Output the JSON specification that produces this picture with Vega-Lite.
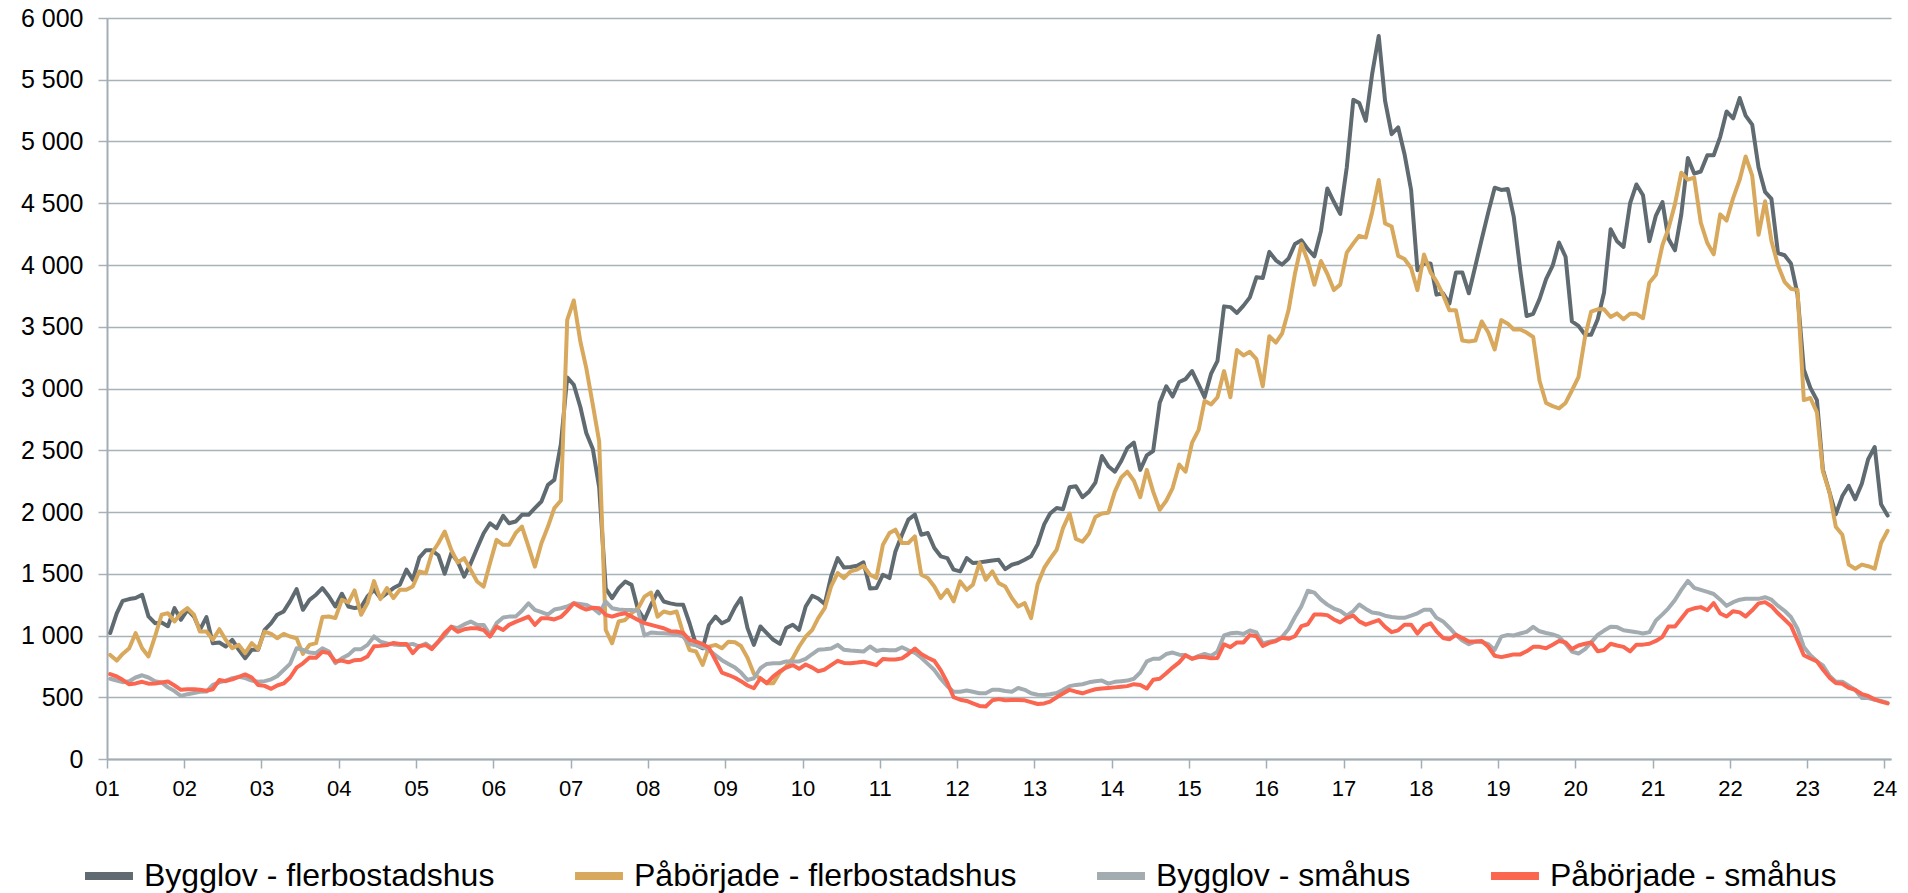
{
"$schema": "https://vega.github.io/schema/vega-lite/v6.json",
"autosize": {"type": "none"},
"width": 1784,
"height": 741,
"padding": {"left": 107, "top": 18, "right": 17, "bottom": 134},
"background": "white",
"config": {"font": "Liberation Sans", "view": {"stroke": null}},
"data": {"values": [
{"d":"2001-01-16","a":1020,"b":843,"c":650,"e":687},{"d":"2001-02-16","a":1180,"b":797,"c":635,"e":668},{"d":"2001-03-16","a":1280,"b":851,"c":622,"e":641},{"d":"2001-04-16","a":1295,"b":897,"c":630,"e":605},{"d":"2001-05-16","a":1303,"b":1019,"c":660,"e":612},{"d":"2001-06-16","a":1330,"b":897,"c":678,"e":625},{"d":"2001-07-16","a":1155,"b":830,"c":660,"e":610},{"d":"2001-08-16","a":1100,"b":992,"c":630,"e":612},{"d":"2001-09-16","a":1105,"b":1168,"c":620,"e":620},{"d":"2001-10-16","a":1075,"b":1181,"c":580,"e":627},{"d":"2001-11-16","a":1222,"b":1114,"c":550,"e":595},{"d":"2001-12-16","a":1127,"b":1181,"c":510,"e":560},
{"d":"2002-01-16","a":1208,"b":1222,"c":525,"e":565},{"d":"2002-02-16","a":1154,"b":1168,"c":535,"e":565},{"d":"2002-03-16","a":1046,"b":1032,"c":544,"e":560},{"d":"2002-04-16","a":1149,"b":1032,"c":546,"e":553},{"d":"2002-05-16","a":938,"b":965,"c":600,"e":565},{"d":"2002-06-16","a":943,"b":1051,"c":620,"e":640},{"d":"2002-07-16","a":911,"b":965,"c":635,"e":630},{"d":"2002-08-16","a":965,"b":897,"c":655,"e":645},{"d":"2002-09-16","a":884,"b":924,"c":665,"e":665},{"d":"2002-10-16","a":816,"b":857,"c":655,"e":685},{"d":"2002-11-16","a":884,"b":938,"c":635,"e":660},{"d":"2002-12-16","a":884,"b":889,"c":625,"e":600},
{"d":"2003-01-16","a":1046,"b":1032,"c":630,"e":592},{"d":"2003-02-16","a":1100,"b":1013,"c":645,"e":568},{"d":"2003-03-16","a":1168,"b":978,"c":670,"e":595},{"d":"2003-04-16","a":1195,"b":1013,"c":720,"e":612},{"d":"2003-05-16","a":1276,"b":992,"c":770,"e":660},{"d":"2003-06-16","a":1376,"b":978,"c":897,"e":740},{"d":"2003-07-16","a":1208,"b":851,"c":884,"e":775},{"d":"2003-08-16","a":1289,"b":924,"c":862,"e":822},{"d":"2003-09-16","a":1330,"b":938,"c":857,"e":820},{"d":"2003-10-16","a":1384,"b":1149,"c":897,"e":868},{"d":"2003-11-16","a":1316,"b":1154,"c":870,"e":857},{"d":"2003-12-16","a":1235,"b":1141,"c":776,"e":790},
{"d":"2004-01-16","a":1338,"b":1289,"c":816,"e":797},{"d":"2004-02-16","a":1235,"b":1268,"c":843,"e":783},{"d":"2004-03-16","a":1222,"b":1365,"c":889,"e":800},{"d":"2004-04-16","a":1230,"b":1168,"c":889,"e":803},{"d":"2004-05-16","a":1316,"b":1262,"c":924,"e":830},{"d":"2004-06-16","a":1370,"b":1440,"c":992,"e":912},{"d":"2004-07-16","a":1303,"b":1295,"c":951,"e":916},{"d":"2004-08-16","a":1343,"b":1384,"c":935,"e":922},{"d":"2004-09-16","a":1384,"b":1303,"c":928,"e":940},{"d":"2004-10-16","a":1411,"b":1370,"c":924,"e":932},{"d":"2004-11-16","a":1533,"b":1370,"c":924,"e":932},{"d":"2004-12-16","a":1451,"b":1397,"c":932,"e":857},
{"d":"2005-01-16","a":1630,"b":1518,"c":910,"e":915},{"d":"2005-02-16","a":1690,"b":1504,"c":935,"e":922},{"d":"2005-03-16","a":1690,"b":1666,"c":900,"e":890},{"d":"2005-04-16","a":1650,"b":1747,"c":950,"e":950},{"d":"2005-05-16","a":1500,"b":1842,"c":1000,"e":1020},{"d":"2005-06-16","a":1666,"b":1693,"c":1072,"e":1070},{"d":"2005-07-16","a":1600,"b":1591,"c":1060,"e":1030},{"d":"2005-08-16","a":1477,"b":1626,"c":1090,"e":1050},{"d":"2005-09-16","a":1585,"b":1531,"c":1113,"e":1059},{"d":"2005-10-16","a":1707,"b":1437,"c":1086,"e":1059},{"d":"2005-11-16","a":1828,"b":1396,"c":1086,"e":1045},{"d":"2005-12-16","a":1909,"b":1585,"c":1005,"e":991},
{"d":"2006-01-16","a":1869,"b":1774,"c":1100,"e":1072},{"d":"2006-02-16","a":1969,"b":1734,"c":1145,"e":1045},{"d":"2006-03-16","a":1909,"b":1734,"c":1153,"e":1086},{"d":"2006-04-16","a":1923,"b":1828,"c":1153,"e":1110},{"d":"2006-05-16","a":1977,"b":1882,"c":1200,"e":1130},{"d":"2006-06-16","a":1977,"b":1720,"c":1261,"e":1153},{"d":"2006-07-16","a":2031,"b":1558,"c":1207,"e":1086},{"d":"2006-08-16","a":2085,"b":1747,"c":1190,"e":1140},{"d":"2006-09-16","a":2220,"b":1882,"c":1170,"e":1140},{"d":"2006-10-16","a":2260,"b":2031,"c":1210,"e":1130},{"d":"2006-11-16","a":2550,"b":2093,"c":1221,"e":1150},{"d":"2006-12-16","a":3090,"b":3556,"c":1235,"e":1200},
{"d":"2007-01-16","a":3030,"b":3713,"c":1261,"e":1261},{"d":"2007-02-16","a":2850,"b":3381,"c":1255,"e":1230},{"d":"2007-03-16","a":2640,"b":3165,"c":1248,"e":1210},{"d":"2007-04-16","a":2510,"b":2868,"c":1221,"e":1225},{"d":"2007-05-16","a":2200,"b":2571,"c":1180,"e":1220},{"d":"2007-06-16","a":1380,"b":1045,"c":1275,"e":1167},{"d":"2007-07-16","a":1302,"b":937,"c":1221,"e":1153},{"d":"2007-08-16","a":1383,"b":1113,"c":1210,"e":1170},{"d":"2007-09-16","a":1437,"b":1126,"c":1207,"e":1180},{"d":"2007-10-16","a":1410,"b":1180,"c":1207,"e":1153},{"d":"2007-11-16","a":1207,"b":1221,"c":1200,"e":1126},{"d":"2007-12-16","a":1126,"b":1315,"c":1000,"e":1100},
{"d":"2008-01-16","a":1248,"b":1348,"c":1024,"e":1086},{"d":"2008-02-16","a":1356,"b":1153,"c":1020,"e":1072},{"d":"2008-03-16","a":1275,"b":1194,"c":1018,"e":1059},{"d":"2008-04-16","a":1260,"b":1180,"c":1015,"e":1035},{"d":"2008-05-16","a":1250,"b":1194,"c":1010,"e":1032},{"d":"2008-06-16","a":1248,"b":1018,"c":991,"e":1020},{"d":"2008-07-16","a":1099,"b":883,"c":930,"e":964},{"d":"2008-08-16","a":924,"b":870,"c":920,"e":950},{"d":"2008-09-16","a":897,"b":762,"c":905,"e":930},{"d":"2008-10-16","a":1086,"b":910,"c":883,"e":900},{"d":"2008-11-16","a":1153,"b":924,"c":840,"e":800},{"d":"2008-12-16","a":1099,"b":897,"c":800,"e":700},
{"d":"2009-01-16","a":1125,"b":950,"c":770,"e":680},{"d":"2009-02-16","a":1230,"b":945,"c":740,"e":658},{"d":"2009-03-16","a":1303,"b":915,"c":700,"e":630},{"d":"2009-04-16","a":1060,"b":820,"c":640,"e":595},{"d":"2009-05-16","a":924,"b":690,"c":654,"e":573},{"d":"2009-06-16","a":1073,"b":650,"c":735,"e":654},{"d":"2009-07-16","a":1019,"b":614,"c":770,"e":614},{"d":"2009-08-16","a":965,"b":614,"c":776,"e":670},{"d":"2009-09-16","a":932,"b":700,"c":775,"e":710},{"d":"2009-10-16","a":1060,"b":750,"c":790,"e":740},{"d":"2009-11-16","a":1087,"b":816,"c":790,"e":760},{"d":"2009-12-16","a":1046,"b":911,"c":790,"e":730},
{"d":"2010-01-16","a":1235,"b":990,"c":810,"e":765},{"d":"2010-02-16","a":1322,"b":1046,"c":850,"e":740},{"d":"2010-03-16","a":1300,"b":1141,"c":884,"e":710},{"d":"2010-04-16","a":1255,"b":1222,"c":889,"e":725},{"d":"2010-05-16","a":1479,"b":1397,"c":895,"e":760},{"d":"2010-06-16","a":1627,"b":1506,"c":924,"e":795},{"d":"2010-07-16","a":1550,"b":1465,"c":884,"e":778},{"d":"2010-08-16","a":1554,"b":1519,"c":878,"e":776},{"d":"2010-09-16","a":1565,"b":1533,"c":874,"e":781},{"d":"2010-10-16","a":1592,"b":1565,"c":870,"e":788},{"d":"2010-11-16","a":1380,"b":1492,"c":911,"e":775},{"d":"2010-12-16","a":1384,"b":1465,"c":875,"e":760},
{"d":"2011-01-16","a":1492,"b":1735,"c":884,"e":810},{"d":"2011-02-16","a":1465,"b":1830,"c":880,"e":806},{"d":"2011-03-16","a":1681,"b":1857,"c":880,"e":805},{"d":"2011-04-16","a":1816,"b":1749,"c":905,"e":815},{"d":"2011-05-16","a":1938,"b":1749,"c":880,"e":850},{"d":"2011-06-16","a":1979,"b":1803,"c":860,"e":895},{"d":"2011-07-16","a":1816,"b":1492,"c":820,"e":850},{"d":"2011-08-16","a":1830,"b":1465,"c":770,"e":820},{"d":"2011-09-16","a":1708,"b":1397,"c":720,"e":795},{"d":"2011-10-16","a":1641,"b":1303,"c":650,"e":720},{"d":"2011-11-16","a":1627,"b":1370,"c":590,"e":620},{"d":"2011-12-16","a":1533,"b":1276,"c":545,"e":500},
{"d":"2012-01-16","a":1519,"b":1438,"c":545,"e":480},{"d":"2012-02-16","a":1627,"b":1370,"c":555,"e":470},{"d":"2012-03-16","a":1587,"b":1411,"c":545,"e":450},{"d":"2012-04-16","a":1592,"b":1587,"c":532,"e":430},{"d":"2012-05-16","a":1600,"b":1451,"c":532,"e":425},{"d":"2012-06-16","a":1608,"b":1519,"c":560,"e":475},{"d":"2012-07-16","a":1613,"b":1424,"c":560,"e":485},{"d":"2012-08-16","a":1538,"b":1397,"c":550,"e":475},{"d":"2012-09-16","a":1573,"b":1303,"c":545,"e":478},{"d":"2012-10-16","a":1587,"b":1235,"c":575,"e":478},{"d":"2012-11-16","a":1613,"b":1262,"c":560,"e":475},{"d":"2012-12-16","a":1641,"b":1141,"c":532,"e":460},
{"d":"2013-01-16","a":1738,"b":1415,"c":520,"e":445},{"d":"2013-02-16","a":1900,"b":1547,"c":518,"e":450},{"d":"2013-03-16","a":1988,"b":1620,"c":525,"e":465},{"d":"2013-04-16","a":2032,"b":1694,"c":535,"e":500},{"d":"2013-05-16","a":2023,"b":1870,"c":560,"e":530},{"d":"2013-06-16","a":2200,"b":1988,"c":590,"e":560},{"d":"2013-07-16","a":2209,"b":1782,"c":600,"e":545},{"d":"2013-08-16","a":2120,"b":1759,"c":605,"e":532},{"d":"2013-09-16","a":2165,"b":1826,"c":621,"e":550},{"d":"2013-10-16","a":2238,"b":1959,"c":630,"e":565},{"d":"2013-11-16","a":2453,"b":1988,"c":635,"e":571},{"d":"2013-12-16","a":2371,"b":1994,"c":610,"e":575},
{"d":"2014-01-16","a":2326,"b":2165,"c":625,"e":580},{"d":"2014-02-16","a":2415,"b":2282,"c":630,"e":585},{"d":"2014-03-16","a":2518,"b":2326,"c":635,"e":590},{"d":"2014-04-16","a":2562,"b":2253,"c":650,"e":606},{"d":"2014-05-16","a":2341,"b":2120,"c":700,"e":600},{"d":"2014-06-16","a":2459,"b":2341,"c":790,"e":571},{"d":"2014-07-16","a":2494,"b":2165,"c":812,"e":641},{"d":"2014-08-16","a":2885,"b":2018,"c":812,"e":650},{"d":"2014-09-16","a":3018,"b":2091,"c":850,"e":694},{"d":"2014-10-16","a":2935,"b":2194,"c":862,"e":740},{"d":"2014-11-16","a":3053,"b":2385,"c":845,"e":782},{"d":"2014-12-16","a":3076,"b":2326,"c":840,"e":841},
{"d":"2015-01-16","a":3141,"b":2562,"c":812,"e":812},{"d":"2015-02-16","a":3032,"b":2665,"c":835,"e":826},{"d":"2015-03-16","a":2929,"b":2900,"c":850,"e":826},{"d":"2015-04-16","a":3121,"b":2871,"c":835,"e":815},{"d":"2015-05-16","a":3223,"b":2929,"c":870,"e":818},{"d":"2015-06-16","a":3665,"b":3141,"c":1000,"e":929},{"d":"2015-07-16","a":3659,"b":2929,"c":1018,"e":906},{"d":"2015-08-16","a":3612,"b":3312,"c":1023,"e":944},{"d":"2015-09-16","a":3671,"b":3268,"c":1012,"e":944},{"d":"2015-10-16","a":3738,"b":3297,"c":1041,"e":1003},{"d":"2015-11-16","a":3900,"b":3238,"c":1025,"e":994},{"d":"2015-12-16","a":3894,"b":3018,"c":935,"e":915},
{"d":"2016-01-16","a":4106,"b":3423,"c":950,"e":940},{"d":"2016-02-16","a":4038,"b":3371,"c":960,"e":955},{"d":"2016-03-16","a":4003,"b":3444,"c":988,"e":982},{"d":"2016-04-16","a":4053,"b":3635,"c":1053,"e":973},{"d":"2016-05-16","a":4170,"b":3929,"c":1150,"e":994},{"d":"2016-06-16","a":4200,"b":4170,"c":1238,"e":1076},{"d":"2016-07-16","a":4129,"b":4032,"c":1362,"e":1091},{"d":"2016-08-16","a":4070,"b":3841,"c":1347,"e":1171},{"d":"2016-09-16","a":4276,"b":4032,"c":1290,"e":1170},{"d":"2016-10-16","a":4620,"b":3929,"c":1250,"e":1165},{"d":"2016-11-16","a":4512,"b":3797,"c":1218,"e":1130},{"d":"2016-12-16","a":4414,"b":3841,"c":1200,"e":1106},
{"d":"2017-01-16","a":4789,"b":4100,"c":1161,"e":1143},{"d":"2017-02-16","a":5337,"b":4175,"c":1197,"e":1161},{"d":"2017-03-16","a":5312,"b":4236,"c":1251,"e":1114},{"d":"2017-04-16","a":5168,"b":4222,"c":1215,"e":1088},{"d":"2017-05-16","a":5547,"b":4428,"c":1186,"e":1106},{"d":"2017-06-16","a":5854,"b":4688,"c":1179,"e":1125},{"d":"2017-07-16","a":5330,"b":4337,"c":1160,"e":1070},{"d":"2017-08-16","a":5059,"b":4312,"c":1150,"e":1027},{"d":"2017-09-16","a":5114,"b":4074,"c":1143,"e":1042},{"d":"2017-10-16","a":4897,"b":4049,"c":1143,"e":1088},{"d":"2017-11-16","a":4608,"b":3976,"c":1161,"e":1088},{"d":"2017-12-16","a":3958,"b":3796,"c":1180,"e":1016},
{"d":"2018-01-16","a":4013,"b":4085,"c":1208,"e":1078},{"d":"2018-02-16","a":4013,"b":3940,"c":1208,"e":1099},{"d":"2018-03-16","a":3760,"b":3868,"c":1143,"e":1034},{"d":"2018-04-16","a":3771,"b":3760,"c":1114,"e":980},{"d":"2018-05-16","a":3688,"b":3633,"c":1063,"e":969},{"d":"2018-06-16","a":3940,"b":3633,"c":1005,"e":1005},{"d":"2018-07-16","a":3940,"b":3388,"c":960,"e":980},{"d":"2018-08-16","a":3771,"b":3381,"c":930,"e":951},{"d":"2018-09-16","a":3994,"b":3388,"c":951,"e":951},{"d":"2018-10-16","a":4211,"b":3543,"c":948,"e":955},{"d":"2018-11-16","a":4428,"b":3453,"c":930,"e":908},{"d":"2018-12-16","a":4626,"b":3316,"c":883,"e":836},
{"d":"2019-01-16","a":4608,"b":3554,"c":991,"e":825},{"d":"2019-02-16","a":4615,"b":3525,"c":1005,"e":836},{"d":"2019-03-16","a":4392,"b":3478,"c":1000,"e":847},{"d":"2019-04-16","a":3958,"b":3478,"c":1016,"e":847},{"d":"2019-05-16","a":3587,"b":3453,"c":1030,"e":872},{"d":"2019-06-16","a":3605,"b":3417,"c":1070,"e":908},{"d":"2019-07-16","a":3724,"b":3063,"c":1034,"e":908},{"d":"2019-08-16","a":3886,"b":2883,"c":1020,"e":897},{"d":"2019-09-16","a":3994,"b":2857,"c":1009,"e":926},{"d":"2019-10-16","a":4182,"b":2839,"c":991,"e":955},{"d":"2019-11-16","a":4067,"b":2883,"c":933,"e":944},{"d":"2019-12-16","a":3543,"b":2984,"c":870,"e":890},
{"d":"2020-01-16","a":3507,"b":3092,"c":854,"e":919},{"d":"2020-02-16","a":3435,"b":3417,"c":890,"e":933},{"d":"2020-03-16","a":3435,"b":3623,"c":944,"e":944},{"d":"2020-04-16","a":3561,"b":3641,"c":1005,"e":872},{"d":"2020-05-16","a":3778,"b":3641,"c":1040,"e":883},{"d":"2020-06-16","a":4290,"b":3579,"c":1070,"e":933},{"d":"2020-07-16","a":4193,"b":3608,"c":1068,"e":919},{"d":"2020-08-16","a":4146,"b":3561,"c":1042,"e":908},{"d":"2020-09-16","a":4500,"b":3605,"c":1035,"e":872},{"d":"2020-10-16","a":4652,"b":3605,"c":1027,"e":926},{"d":"2020-11-16","a":4565,"b":3569,"c":1016,"e":926},{"d":"2020-12-16","a":4193,"b":3857,"c":1027,"e":933},
{"d":"2021-01-16","a":4400,"b":3921,"c":1121,"e":956},{"d":"2021-02-16","a":4509,"b":4162,"c":1171,"e":989},{"d":"2021-03-16","a":4212,"b":4294,"c":1220,"e":1072},{"d":"2021-04-16","a":4119,"b":4493,"c":1287,"e":1072},{"d":"2021-05-16","a":4410,"b":4747,"c":1369,"e":1138},{"d":"2021-06-16","a":4866,"b":4691,"c":1442,"e":1204},{"d":"2021-07-16","a":4740,"b":4707,"c":1386,"e":1220},{"d":"2021-08-16","a":4757,"b":4344,"c":1369,"e":1230},{"d":"2021-09-16","a":4889,"b":4178,"c":1353,"e":1204},{"d":"2021-10-16","a":4889,"b":4086,"c":1336,"e":1263},{"d":"2021-11-16","a":5038,"b":4410,"c":1290,"e":1178},{"d":"2021-12-16","a":5243,"b":4360,"c":1240,"e":1154},
{"d":"2022-01-16","a":5187,"b":4542,"c":1270,"e":1197},{"d":"2022-02-16","a":5352,"b":4691,"c":1290,"e":1187},{"d":"2022-03-16","a":5210,"b":4879,"c":1297,"e":1154},{"d":"2022-04-16","a":5137,"b":4724,"c":1297,"e":1204},{"d":"2022-05-16","a":4790,"b":4245,"c":1297,"e":1260},{"d":"2022-06-16","a":4592,"b":4516,"c":1310,"e":1270},{"d":"2022-07-16","a":4535,"b":4195,"c":1290,"e":1237},{"d":"2022-08-16","a":4096,"b":3997,"c":1240,"e":1180},{"d":"2022-09-16","a":4079,"b":3864,"c":1200,"e":1130},{"d":"2022-10-16","a":4013,"b":3808,"c":1150,"e":1080},{"d":"2022-11-16","a":3765,"b":3798,"c":1055,"e":960},{"d":"2022-12-16","a":3154,"b":2906,"c":907,"e":840},
{"d":"2023-01-16","a":3005,"b":2923,"c":841,"e":814},{"d":"2023-02-16","a":2906,"b":2807,"c":791,"e":791},{"d":"2023-03-16","a":2344,"b":2328,"c":758,"e":725},{"d":"2023-04-16","a":2162,"b":2162,"c":675,"e":659},{"d":"2023-05-16","a":1981,"b":1881,"c":626,"e":616},{"d":"2023-06-16","a":2129,"b":1815,"c":626,"e":609},{"d":"2023-07-16","a":2212,"b":1574,"c":593,"e":576},{"d":"2023-08-16","a":2103,"b":1541,"c":559,"e":559},{"d":"2023-09-16","a":2229,"b":1574,"c":493,"e":526},{"d":"2023-10-16","a":2427,"b":1561,"c":493,"e":510},{"d":"2023-11-16","a":2526,"b":1541,"c":480,"e":483},{"d":"2023-12-16","a":2063,"b":1749,"c":470,"e":465},
{"d":"2024-01-16","a":1971,"b":1848,"c":455,"e":450}
]},
"transform": [{"fold": ["a", "b", "c", "e"], "as": ["k", "v"]}],
"mark": {"type": "line", "strokeWidth": 4, "strokeJoin": "round", "strokeCap": "round"},
"encoding": {
  "x": {
    "field": "d", "type": "temporal",
    "scale": {"type": "utc", "domain": [{"year": 2001, "month": 1, "date": 1, "utc": true}, {"year": 2024, "month": 2, "date": 1, "utc": true}]},
    "axis": {"title": null, "format": "%y", "tickCount": {"interval": "year", "step": 1}, "grid": false,
      "domainColor": "#A3ADB4", "domainWidth": 2, "tickColor": "#A3ADB4", "tickWidth": 1.5, "tickSize": 9,
      "labelFontSize": 22, "labelColor": "#000000", "labelPadding": 10, "labelFlush": false, "labelOverlap": false}
  },
  "y": {
    "field": "v", "type": "quantitative",
    "scale": {"domain": [0, 6000], "nice": false},
    "axis": {"title": null, "values": [0,500,1000,1500,2000,2500,3000,3500,4000,4500,5000,5500,6000],
      "labelExpr": "replace(format(datum.value, ','), ',', ' ')",
      "grid": true, "gridColor": "#A8B2B9", "gridWidth": 1.5,
      "domainColor": "#A3ADB4", "domainWidth": 2, "tickColor": "#A8B2B9", "tickWidth": 1.5, "tickSize": 9,
      "labelFontSize": 25, "labelColor": "#000000", "labelPadding": 15}
  },
  "color": {
    "field": "k", "type": "nominal",
    "scale": {"domain": ["a", "b", "c", "e"], "range": ["#5F6B71", "#D8A85C", "#A3ACB1", "#FA6650"]},
    "legend": {"title": null, "orient": "none", "legendX": -26, "legendY": 830, "direction": "horizontal",
      "symbolType": "stroke", "symbolStrokeWidth": 8, "symbolSize": 2300, "labelFontSize": 32, "labelColor": "#000000",
      "labelOffset": 7, "columnPadding": 64, "labelLimit": 800,
      "labelExpr": "datum.value == 'a' ? 'Bygglov - flerbostadshus' : datum.value == 'b' ? 'Påbörjade - flerbostadshus' : datum.value == 'c' ? 'Bygglov - småhus' : 'Påbörjade - småhus'"}
  }
}
}
